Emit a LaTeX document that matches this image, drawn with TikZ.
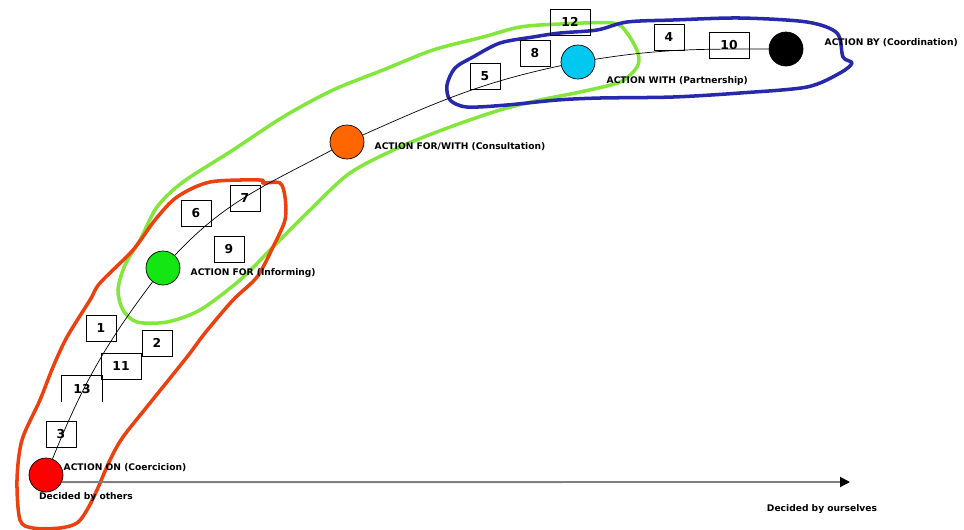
\documentclass[tikz,border=0pt]{standalone}
\usepackage{fontspec}
\setmainfont{DejaVu Sans}
\usetikzlibrary{arrows.meta,positioning}
\definecolor{loopred}{RGB}{235,65,15}
\definecolor{loopgreen}{RGB}{130,230,60}
\definecolor{loopblue}{RGB}{40,40,170}
\definecolor{dotred}{RGB}{255,0,0}
\definecolor{dotgreen}{RGB}{20,230,20}
\definecolor{dotorange}{RGB}{255,102,0}
\definecolor{dotcyan}{RGB}{0,200,240}
\tikzset{
    %Define style for the dots
    punkt/.style={
           circle,
           draw=black, thin,
           minimum size=0.68cm,
           inner sep=0pt},
    %Define style for number boxes
    punktrect/.style={
           rectangle,
           draw=black, line width=0.5pt,
           minimum width=0.6cm,
           minimum height=0.52cm,
           inner sep=0pt,
           font=\fontsize{7}{8}\selectfont\bfseries},
    widerect/.style={punktrect, minimum width=0.8cm},
    % labels next to the dots
    lbl/.style={inner sep=0pt, font=\fontsize{5.2}{6}\selectfont\bfseries},
    % hand drawn loops
    loop/.style={line width=2pt, line join=round, line cap=round},
    % Define arrow style
    pil/.style={
           draw=gray, line width=1.1pt,
           -{Triangle[length=0.2cm,width=0.2cm,color=black]}}
}
\begin{document}
\begin{tikzpicture}[x=0.02cm,y=-0.02cm]
\useasboundingbox (0,0) rectangle (964,529);

% groups
\draw[loop, loopgreen] plot[smooth cycle] coordinates {(123,310) (118,290) (125,265) (140,240) (157,207)
  (183,182) (233,150) (283,117) (333,90) (383,70) (433,50) (483,37) (520,27) (560,24) (613,23)
  (627,33) (638,53) (637,67) (620,82) (580,92) (540,100) (500,110) (450,127) (400,147) (350,173)
  (310,210) (273,247) (240,280) (200,310) (167,322) (137,322)};
\draw[loop, loopred] plot[smooth cycle] coordinates {(210,182) (260,180) (263,183) (280,183) (285,197)
  (285,220) (273,247) (257,277) (233,300) (205,333) (187,357) (150,403) (123,437) (110,460) (97,490)
  (87,510) (77,523) (60,528) (33,528) (20,520) (17,480) (22,440) (40,400) (53,367) (67,337) (90,300)
  (100,283) (133,250) (155,220) (177,197)};
\draw[loop, loopblue] plot[smooth cycle] coordinates {(447,85) (455,68) (473,57) (500,43) (533,37)
  (560,33) (597,30) (627,22) (673,20) (740,18) (807,22) (837,33) (843,57) (852,63) (840,73)
  (807,87) (740,93) (673,97) (600,98) (557,100) (507,105) (467,107) (450,100)};

\node[punkt, fill=dotred](1) at (46,475){};
\node[punkt, fill=dotgreen](2) at (163,268){};
\node[punkt, fill=dotorange](3) at (347,142){};
\node[punkt, fill=dotcyan](4) at (578,62){};
\node[punkt, fill=black](5) at (786,49){};
\coordinate (axend) at (850,482);

\node[lbl, right=0cm of 1, yshift=0.14cm]{ACTION ON (Coercicion)};
\node[lbl, right=0.2cm of 2, yshift=-0.1cm]{ACTION FOR (Informing)};
\node[lbl, right=0.2cm of 3, yshift=-0.1cm]{ACTION FOR/WITH (Consultation)};
\node[lbl, right=0.22cm of 4, yshift=-0.38cm]{ACTION WITH (Partnership)};
\node[lbl, right=0.42cm of 5, yshift=0.12cm]{ACTION BY (Coordination)};
\node[lbl, below=0cm of 1, xshift=0.8cm]{Decided by others};
\node[lbl, below=0.44cm of axend, xshift=-0.56cm]{Decided by ourselves};

\path[thin]
 	(1) edge[out=68,in=233] (2)
 	(2) edge[out=47,in=208] (3)
 	(3) edge[out=24,in=192] (4)
 	(4) edge[out=9,in=180] (5);
\draw[pil] (1.-24) -- (axend);

\node[punktrect](b1) at (101,328){1};
\node[punktrect](b2) at (157,343){2};
\node[punktrect](b3) at (61,434){3};
\node[punktrect](b4) at (669,37){4};
\node[punktrect](b5) at (485,76){5};
\node[punktrect](b6) at (196,213){6};
\node[punktrect](b7) at (245,198){7};
\node[punktrect](b8) at (535,53){8};
\node[punktrect](b9) at (229,249){9};
\node[widerect](b10) at (729,45){10};
\node[widerect](b11) at (121,366){11};
\node[widerect](b12) at (570,22){12};
\node[widerect, draw=none](b13) at (82,389){13};
\draw[line width=0.5pt] (b13.south west) -- (b13.north west) -- (b13.north east) -- (b13.south east);

\end{tikzpicture}
\end{document}
